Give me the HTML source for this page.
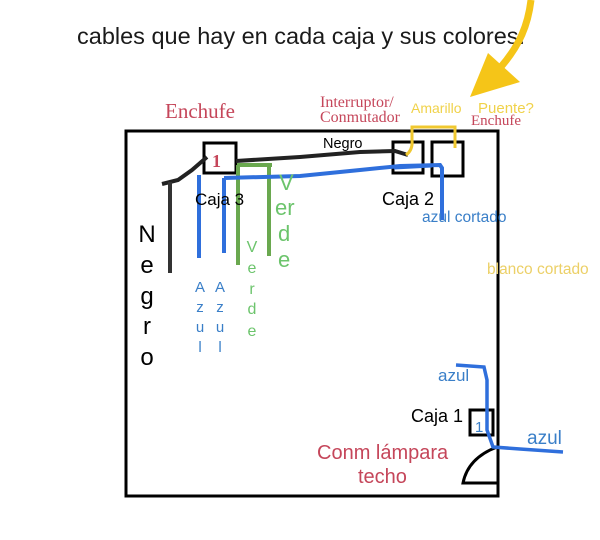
<!DOCTYPE html>
<html><head><meta charset="utf-8"><style>
html,body{margin:0;padding:0;background:#fff;}
svg{display:block}
.s{font-family:"Liberation Sans",sans-serif}
.r{font-family:"Liberation Serif",serif;fill:#c5465a}
</style></head><body>
<svg width="600" height="540" viewBox="0 0 600 540" xmlns="http://www.w3.org/2000/svg">
<rect width="600" height="540" fill="#fff"/>
<text x="77" y="44" class="s" font-size="23.5" fill="#1a1a1a">cables que hay en cada caja y sus colores.</text>
<!-- yellow arrow -->
<path d="M531,0 C528,25 520,45 500,68" stroke="#f5c518" stroke-width="7" fill="none"/>
<polygon points="470,97 488,53 520,82" fill="#f5c518"/>
<!-- main box -->
<path d="M126,131 H498 V496 H126 Z" stroke="#000" stroke-width="3" fill="none"/>
<path d="M497,447 Q468,458 463,483 H498" stroke="#000" stroke-width="3" fill="none"/>
<!-- boxes -->
<rect x="204" y="143" width="32" height="30" fill="none" stroke="#000" stroke-width="3"/>
<rect x="393" y="142" width="30" height="31" fill="none" stroke="#000" stroke-width="3"/>
<rect x="432" y="142" width="31" height="34" fill="none" stroke="#000" stroke-width="3"/>
<rect x="470" y="410" width="23" height="25" fill="none" stroke="#000" stroke-width="3"/>
<!-- black wires -->
<path d="M162,184 L178,180 L192,170 L207,157" stroke="#222" stroke-width="4" fill="none"/>
<path d="M170,182 V273" stroke="#333" stroke-width="4" fill="none"/>
<path d="M236,161 L300,157 L360,152 L395,151 L408,155" stroke="#222" stroke-width="4" fill="none"/>
<!-- yellow wire -->
<path d="M406,155 Q413,150 412,140 V127 H455 V148" stroke="#f0c830" stroke-width="3" fill="none"/>
<!-- green -->
<path d="M237,165 H272 M238,165 V265 M269,165 V256" stroke="#6aa84f" stroke-width="4" fill="none"/>
<!-- blue -->
<path d="M199,175 V258 M224,178 V253 M224,178 L300,176 L360,170 L400,166 L440,165 L442,168 V220" stroke="#2f6fdc" stroke-width="4" fill="none"/>
<path d="M394,168 L432,166" stroke="#2f6fdc" stroke-width="3" fill="none"/>
<path d="M456,365 L484,367 L487,380 V430 L493,447 L520,449 L563,452" stroke="#2f6fdc" stroke-width="3.5" fill="none"/>
<!-- labels -->
<text x="165" y="118" class="r" font-size="21">Enchufe</text>
<text x="320" y="107" class="r" font-size="16">Interruptor/</text>
<text x="320" y="122" class="r" font-size="16">Conmutador</text>
<text x="411" y="113" class="s" font-size="14" fill="#f0d24a">Amarillo</text>
<text x="478" y="113" class="s" font-size="15" fill="#f0d24a">Puente?</text>
<text x="471" y="125" class="r" font-size="15">Enchufe</text>
<text x="323" y="148" class="s" font-size="14.5" fill="#000">Negro</text>
<text x="212" y="167" class="r" font-size="18" font-weight="bold">1</text>
<text x="195" y="205" class="s" font-size="17" fill="#000">Caja 3</text>
<text x="382" y="205" class="s" font-size="18" fill="#000">Caja 2</text>
<text x="422" y="222" class="s" font-size="15.5" fill="#3a7fc8">azul cortado</text>
<text x="487" y="274" class="s" font-size="15.5" fill="#ecd067">blanco cortado</text>
<g class="s" font-size="22" fill="#6cc46c">
<text x="279" y="190">V</text><text x="275" y="215">er</text><text x="278" y="241">d</text><text x="278" y="267">e</text>
</g>
<g class="s" font-size="16" fill="#6cc46c" text-anchor="middle">
<text x="252" y="252">V</text><text x="252" y="273">e</text><text x="252" y="294">r</text><text x="252" y="314">d</text><text x="252" y="336">e</text>
</g>
<g class="s" font-size="15" fill="#3a7fc8" text-anchor="middle">
<text x="200" y="292">A</text><text x="200" y="312">z</text><text x="200" y="332">u</text><text x="200" y="352">l</text>
<text x="220" y="292">A</text><text x="220" y="312">z</text><text x="220" y="332">u</text><text x="220" y="352">l</text>
</g>
<g class="s" font-size="24" fill="#000" text-anchor="middle">
<text x="147" y="242">N</text><text x="147" y="273">e</text><text x="147" y="304">g</text><text x="147" y="334">r</text><text x="147" y="365">o</text>
</g>
<text x="438" y="381" class="s" font-size="17" fill="#3a7fc8">azul</text>
<text x="411" y="422" class="s" font-size="18" fill="#000">Caja 1</text>
<text x="475" y="432" class="s" font-size="15" fill="#3a7fc8">1</text>
<text x="527" y="444" class="s" font-size="19" fill="#3a7fc8">azul</text>
<text x="317" y="459" class="s" font-size="20" fill="#c5465a">Conm lámpara</text>
<text x="358" y="483" class="s" font-size="20" fill="#c5465a">techo</text>
</svg>
</body></html>
